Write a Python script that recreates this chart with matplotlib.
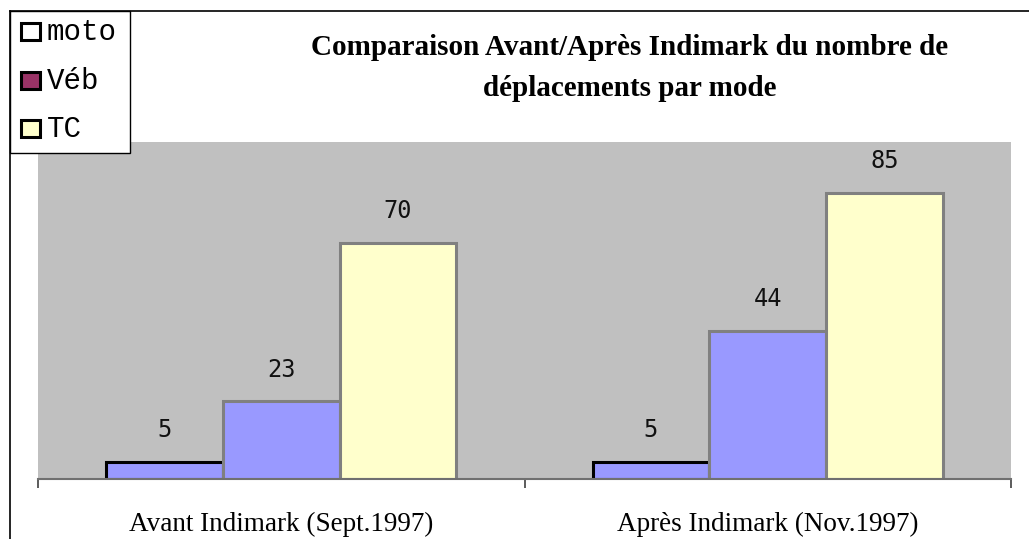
import matplotlib
matplotlib.use("Agg")
import matplotlib.pyplot as plt
from matplotlib.patches import Rectangle
from matplotlib.lines import Line2D
import numpy as np

categories = ["Avant Indimark (Sept.1997)", "Après Indimark (Nov.1997)"]
series_names = ["moto", "Véb", "TC"]
moto = [5, 5]
veb = [23, 44]
tc = [70, 85]
title = "Comparaison Avant/Après Indimark du nombre de\ndéplacements par mode"

W, H = 1029, 539
fig = plt.figure(figsize=(W / 100, H / 100), dpi=100)
fig.patch.set_facecolor("white")

def fx(px):
    return px / W

def fy(py):
    return 1 - py / H

ax = fig.add_axes([fx(38), fy(479), fx(1011) - fx(38), fy(142) - fy(479)])
ax.set_facecolor("#C0C0C0")

x = np.arange(len(categories))
bw = 0.24
fills = ["#9999FF", "#9999FF", "#FFFFCC"]
edges = ["#000000", "#808080", "#808080"]
for i, vals in enumerate([moto, veb, tc]):
    bars = ax.bar(x + (i - 1) * bw, vals, width=bw, color=fills[i],
                  edgecolor=edges[i], linewidth=2.2, zorder=3)
    for b, v in zip(bars, vals):
        ax.annotate(str(v), (b.get_x() + b.get_width() / 2, v),
                    xytext=(0, 23), textcoords="offset points",
                    ha="center", va="center", fontsize=17,
                    family="DejaVu Sans Mono", color="#111111")

ax.set_xlim(-0.5, 1.5)
ax.set_ylim(0, 100)
ax.set_yticks([])
ax.set_xticks([-0.5, 0.5, 1.5])
ax.set_xticklabels([])
ax.tick_params(axis="x", length=6.5, width=1.2, color="#404040")
for s in ["top", "right", "left"]:
    ax.spines[s].set_visible(False)
ax.spines["bottom"].set_color("#707070")
ax.spines["bottom"].set_linewidth(1.5)
ax.spines["bottom"].set_zorder(4)

for xi, lab in zip(x, categories):
    ax.text(xi, -13.6, lab, ha="center", va="center", fontsize=19.5,
            family="Liberation Serif", transform=ax.transData, clip_on=False)

fig.text(fx(630), fy(68), title, ha="center", va="center", fontsize=21,
         family="Liberation Serif", weight="bold", linespacing=1.62)

# frame lines (top and left)
fig.add_artist(Line2D([fx(10), 1], [fy(11), fy(11)], color="black", lw=1.2,
                      transform=fig.transFigure))
fig.add_artist(Line2D([fx(10), fx(10)], [fy(11), 0], color="black", lw=1.2,
                      transform=fig.transFigure))

# legend box
fig.add_artist(Rectangle((fx(10), fy(153)), fx(130) - fx(10), fy(11) - fy(153),
                         transform=fig.transFigure, facecolor="white",
                         edgecolor="black", lw=1.0, zorder=5))
leg_fill = ["#FFFFFF", "#993366", "#FFFFCC"]
leg_y = [32, 81, 129]
for name, fc, yy in zip(series_names, leg_fill, leg_y):
    fig.add_artist(Rectangle((fx(21), fy(yy + 8)), fx(19), fy(0) - fy(17),
                             transform=fig.transFigure, facecolor=fc,
                             edgecolor="black", lw=2.2, zorder=6))
    fig.text(fx(47), fy(yy), name, ha="left", va="center", fontsize=21,
             family="Liberation Mono", zorder=7)

fig.savefig("out.png", dpi=100)
